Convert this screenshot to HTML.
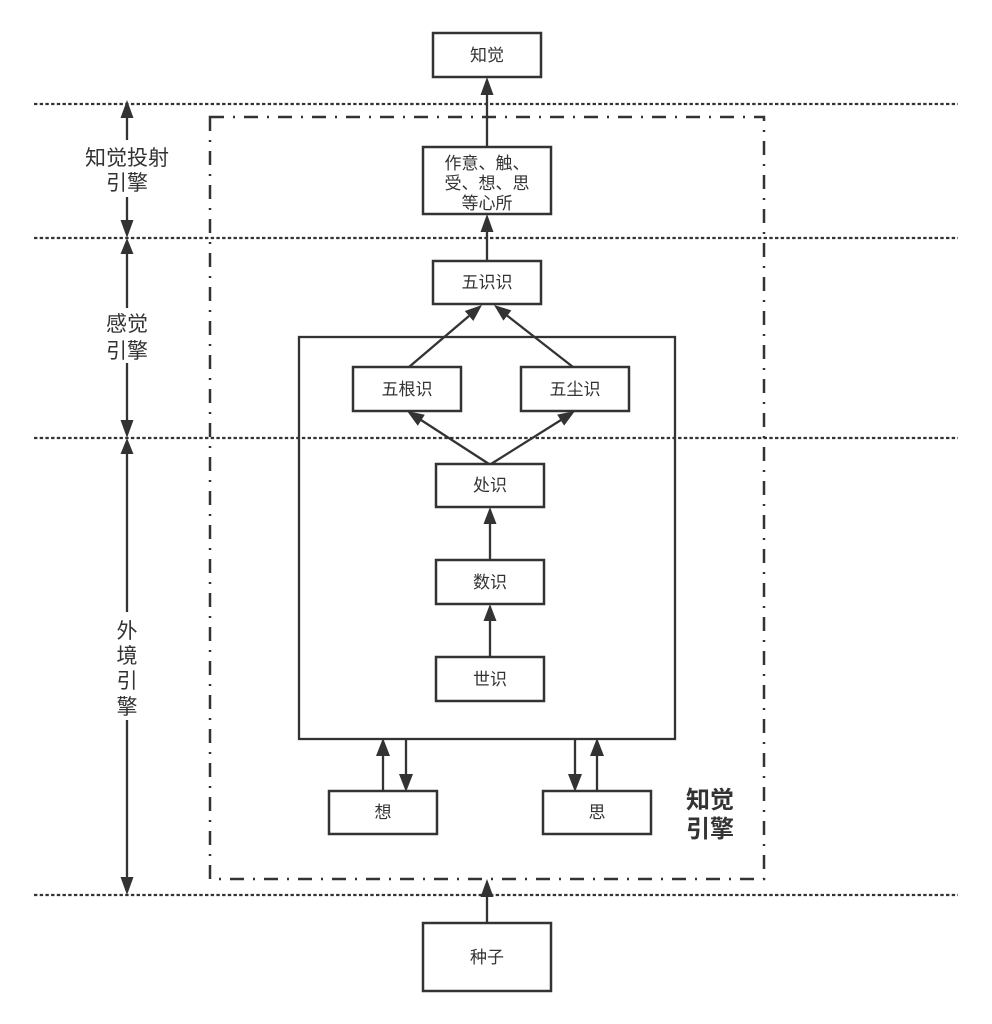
<!DOCTYPE html>
<html><head><meta charset="utf-8"><style>
html,body{margin:0;padding:0;background:#fff;}
svg{display:block;}
text{font-family:"Liberation Sans","Noto Sans CJK SC",sans-serif;fill:#333;}
</style></head><body>
<svg width="992" height="1024" viewBox="0 0 992 1024" xmlns="http://www.w3.org/2000/svg">
<g stroke="#333" fill="none">
  <!-- dotted horizontal lines -->
  <line x1="34" y1="104" x2="958" y2="104" stroke-width="2.2" stroke-dasharray="3.4 2.3"/>
  <line x1="34" y1="238" x2="958" y2="238" stroke-width="2.2" stroke-dasharray="3.4 2.3"/>
  <line x1="34" y1="438" x2="958" y2="438" stroke-width="2.2" stroke-dasharray="3.4 2.3"/>
  <line x1="34" y1="895" x2="958" y2="895" stroke-width="2.2" stroke-dasharray="3.4 2.3"/>
  <!-- dash-dot outer box -->
  <rect x="210" y="117" width="554" height="762" stroke-width="2.5" stroke-dasharray="14 9 2 9"/>
  <!-- big solid box -->
  <rect x="299" y="337" width="376" height="402" stroke-width="2.3"/>
  <!-- boxes -->
  <g stroke-width="2.5" fill="#fff">
    <rect x="433" y="33" width="108" height="44"/>
    <rect x="423" y="147" width="128" height="67"/>
    <rect x="433" y="261" width="108" height="43"/>
    <rect x="353" y="367" width="108" height="44"/>
    <rect x="521" y="367" width="108" height="44"/>
    <rect x="436" y="464" width="108" height="43"/>
    <rect x="436" y="560" width="108" height="44"/>
    <rect x="436" y="657" width="108" height="44"/>
    <rect x="329" y="791" width="108" height="43"/>
    <rect x="543" y="791" width="108" height="43"/>
    <rect x="423" y="923" width="128" height="68"/>
  </g>
  <!-- connector lines -->
  <g stroke-width="2.3">
    <line x1="487" y1="147" x2="487" y2="90"/>
    <line x1="487" y1="261" x2="487" y2="228"/>
    <line x1="409" y1="367" x2="469" y2="316"/>
    <line x1="573" y1="367" x2="507" y2="315.5"/>
    <line x1="489" y1="464" x2="421" y2="420"/>
    <line x1="491" y1="464" x2="561" y2="420"/>
    <line x1="490" y1="560" x2="490" y2="520"/>
    <line x1="490" y1="657" x2="490" y2="617"/>
    <line x1="383" y1="791" x2="383" y2="752"/>
    <line x1="406" y1="739" x2="406" y2="778"/>
    <line x1="575" y1="739" x2="575" y2="778"/>
    <line x1="597" y1="791" x2="597" y2="752"/>
    <line x1="487" y1="923" x2="487" y2="893"/>
    <!-- left dimension line -->
    <line x1="127" y1="115" x2="127" y2="140"/>
    <line x1="127" y1="197" x2="127" y2="225"/>
    <line x1="127" y1="250" x2="127" y2="308"/>
    <line x1="127" y1="363" x2="127" y2="425"/>
    <line x1="127" y1="450" x2="127" y2="612"/>
    <line x1="127" y1="720" x2="127" y2="882"/>
  </g>
</g>
<!-- arrowheads -->
<g fill="#333" stroke="none">
  <polygon points="487,77 480.5,95 493.5,95"/>
  <polygon points="487,214 480.5,232 493.5,232"/>
  <polygon points="482,305 473.3,321 464.8,311"/>
  <polygon points="494,305 511.4,310.4 503.4,320.6"/>
  <polygon points="407,411 424.8,414.8 417.8,425.7"/>
  <polygon points="575,411 564.1,425.6 557.2,414.6"/>
  <polygon points="490,507 483.5,524 496.5,524"/>
  <polygon points="490,604 483.5,621 496.5,621"/>
  <polygon points="383,738 376,756 390,756"/>
  <polygon points="406,792 399,774 413,774"/>
  <polygon points="575,792 568,774 582,774"/>
  <polygon points="597,738 590,756 604,756"/>
  <polygon points="487,879 480.5,897 493.5,897"/>
  <!-- left arrows -->
  <polygon points="127,100 120.5,118 133.5,118"/>
  <polygon points="127,238 120.5,220 133.5,220"/>
  <polygon points="127,238 120.5,254 133.5,254"/>
  <polygon points="127,438 120.5,420 133.5,420"/>
  <polygon points="127,438 120.5,454 133.5,454"/>
  <polygon points="127,895 120.5,877 133.5,877"/>
</g>
<!-- box labels -->
<g font-size="17" text-anchor="middle">
  <text x="487" y="61">知觉</text>
  <text x="487" y="169">作意、触、</text>
  <text x="487" y="189">受、想、思</text>
  <text x="487" y="209">等心所</text>
  <text x="487" y="288">五识识</text>
  <text x="407" y="395">五根识</text>
  <text x="575" y="395">五尘识</text>
  <text x="490" y="491">处识</text>
  <text x="490" y="588">数识</text>
  <text x="490" y="685">世识</text>
  <text x="383" y="818">想</text>
  <text x="597" y="818">思</text>
  <text x="487" y="963">种子</text>
</g>
<!-- side labels -->
<g font-size="21" text-anchor="middle">
  <text x="127" y="165">知觉投射</text>
  <text x="127" y="190">引擎</text>
  <text x="127" y="331">感觉</text>
  <text x="127" y="358">引擎</text>
  <text x="127" y="638">外</text>
  <text x="127" y="663">境</text>
  <text x="127" y="688">引</text>
  <text x="127" y="714">擎</text>
</g>
<g font-size="24" font-weight="bold" text-anchor="middle">
  <text x="710" y="808">知觉</text>
  <text x="710" y="837">引擎</text>
</g>
</svg>
</body></html>
